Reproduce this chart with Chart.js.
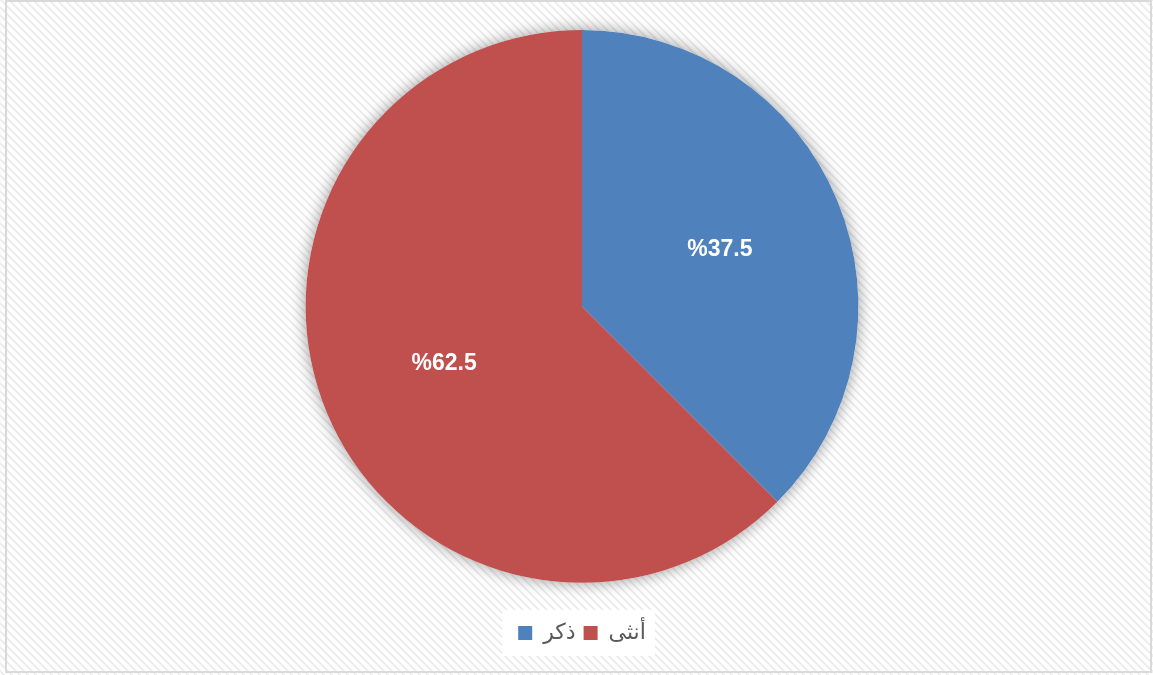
<!DOCTYPE html>
<html lang="ar">
<head>
    <meta charset="UTF-8">
    <title>ذكر / أنثى</title>
    <script src="https://cdn.jsdelivr.net/npm/chart.js"></script>
    <style>
        body { margin: 0; background: #fff; }
    </style>
</head>
<body>
    <canvas id="genderChart" width="1153" height="675"></canvas>

    <script>
        // chart data
        const categories = ['ذكر', 'أنثى'];
        const percentValues = [37.5, 62.5];
        const sliceColors = ['#4F81BD', '#C0504D'];

        // diagonal stripe tile for the background
        function makeStripePattern(ctx) {
            const tile = document.createElement('canvas');
            tile.width = 8;
            tile.height = 8;
            const t = tile.getContext('2d');
            t.fillStyle = '#ffffff';
            t.fillRect(0, 0, 8, 8);
            t.fillStyle = '#eeeeee';
            for (let y = 0; y < 8; y++) {
                for (let x = 0; x < 8; x++) {
                    const d = ((x - y) % 8 + 8) % 8;
                    if (d < 3) t.fillRect(x, y, 1, 1);
                }
            }
            return ctx.createPattern(tile, 'repeat');
        }

        // background, frame, pie shadow and legend panel
        const backgroundPlugin = {
            id: 'backgroundPlugin',
            beforeDraw(chart) {
                const ctx = chart.ctx;
                ctx.save();
                ctx.fillStyle = makeStripePattern(ctx);
                ctx.fillRect(0, 0, chart.width, chart.height);
                ctx.strokeStyle = '#d9d9d9';
                ctx.lineWidth = 2;
                ctx.strokeRect(6, 1, chart.width - 8, chart.height - 4);

                const boxes = chart.legend.legendHitBoxes;
                if (boxes && boxes.length) {
                    const left = Math.min(...boxes.map(b => b.left));
                    const right = Math.max(...boxes.map(b => b.left + b.width));
                    const mid = boxes[0].top + boxes[0].height / 2;
                    ctx.fillStyle = '#ffffff';
                    ctx.fillRect(left - 16, mid - 23, right - left + 25, 46);
                }
                ctx.restore();
            },
            beforeDatasetsDraw(chart) {
                const arc = chart.getDatasetMeta(0).data[0];
                if (!arc) return;
                const ctx = chart.ctx;
                ctx.save();
                ctx.shadowColor = 'rgba(0, 0, 0, 0.4)';
                ctx.shadowBlur = 16;
                ctx.fillStyle = '#ffffff';
                ctx.beginPath();
                ctx.arc(arc.x, arc.y, arc.outerRadius, 0, Math.PI * 2);
                ctx.fill();
                ctx.restore();
            },
            afterDatasetsDraw(chart) {
                const ctx = chart.ctx;
                ctx.save();
                ctx.font = 'bold 23px "Liberation Sans", Arial, sans-serif';
                ctx.fillStyle = '#ffffff';
                ctx.textAlign = 'center';
                ctx.textBaseline = 'middle';
                ctx.direction = 'ltr';
                chart.getDatasetMeta(0).data.forEach((arc, i) => {
                    const angle = (arc.startAngle + arc.endAngle) / 2;
                    const r = arc.outerRadius * 0.54;
                    const x = arc.x + Math.cos(angle) * r;
                    const y = arc.y + Math.sin(angle) * r;
                    ctx.fillText('%' + percentValues[i], x, y);
                });
                ctx.restore();
            }
        };

        const ctx = document.getElementById('genderChart').getContext('2d');
        new Chart(ctx, {
            type: 'pie',
            data: {
                labels: categories,
                datasets: [{
                    data: percentValues,
                    backgroundColor: sliceColors,
                    borderWidth: 0
                }]
            },
            options: {
                responsive: false,
                animation: false,
                layout: {
                    padding: { top: 30, left: 11, right: 0, bottom: 21 }
                },
                plugins: {
                    legend: {
                        position: 'bottom',
                        title: {
                            display: true,
                            text: '',
                            font: { size: 1 },
                            padding: { top: 30, bottom: 0 }
                        },
                        labels: {
                            boxWidth: 14,
                            boxHeight: 14,
                            padding: 8,
                            color: '#595959',
                            font: { size: 22, family: '"DejaVu Sans", Arial, sans-serif' }
                        }
                    },
                    tooltip: { enabled: false }
                }
            },
            plugins: [backgroundPlugin]
        });
    </script>
</body>
</html>
